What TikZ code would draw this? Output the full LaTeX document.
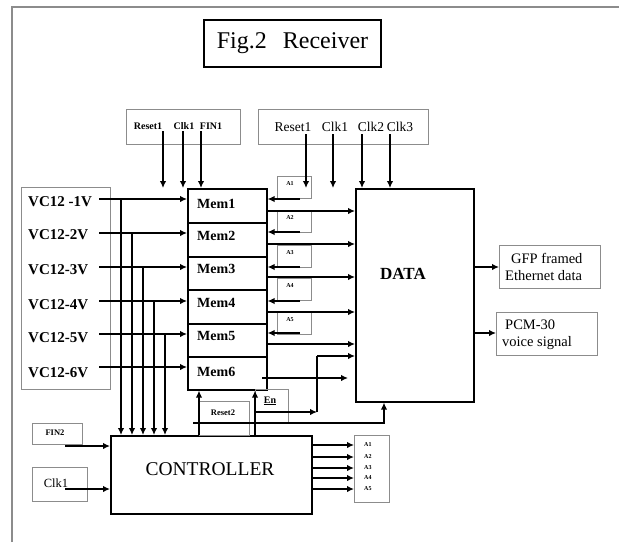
\documentclass[tikz,border=0pt]{standalone}
\usepackage{fontspec}
\setmainfont{Liberation Serif}
\usetikzlibrary{arrows.meta}
\definecolor{frm}{gray}{0.55}
\begin{document}
\begin{tikzpicture}[x=1pt,y=-1pt,
  blk/.style={draw=black, line width=1.6pt, inner sep=0pt, anchor=north west},
  gbox/.style={draw=frm, line width=1.4pt, inner sep=0pt, anchor=north west},
  arr/.style={line width=2pt, -{Latex[length=7pt,width=6.5pt]}},
  ln/.style={line width=2pt},
  lbl/.style={inner sep=0pt},
  vcf/.style={lbl, anchor=west, font=\fontsize{15}{17}\selectfont\bfseries},
  memf/.style={lbl, anchor=west, font=\fontsize{14}{16}\selectfont\bfseries},
  af/.style={lbl, font=\fontsize{6}{7}\selectfont\bfseries},
  tinyf/.style={lbl, font=\fontsize{10}{11}\selectfont\bfseries},
  midf/.style={lbl, font=\fontsize{13.5}{15}\selectfont},
  outf/.style={lbl, anchor=west, font=\fontsize{14.5}{17}\selectfont}
]
\useasboundingbox (0,0) rectangle (619,542);
% outer frame
\draw[frm, line width=1.4pt] (12,542) -- (12,7) -- (619,7);

% title
\node[draw=black, line width=1.8pt, minimum width=177pt, minimum height=47pt, inner sep=0pt,
      font=\fontsize{24}{28}\selectfont] (title) at (292.5,43.5) {Fig.2\hspace{16pt}Receiver};

% top boxes
\node[gbox, minimum width=114pt, minimum height=35pt] (tl) at (126,109) {};
\node[tinyf] (tlr) at (148,126) {Reset1};
\node[tinyf] (tlc) at (184,126) {Clk1};
\node[tinyf] (tlf) at (211,126) {FIN1};
\node[gbox, minimum width=170pt, minimum height=35pt] (tr) at (258,109) {};
\node[midf] (trr) at (293,127) {Reset1};
\node[midf] (trc1) at (335,127) {Clk1};
\node[midf] (trc2) at (371,127) {Clk2};
\node[midf] (trc3) at (400,127) {Clk3};

% mem boxes
\node[blk, minimum width=79pt, minimum height=34pt] (mem1) at (187,188) {};
\node[blk, minimum width=79pt, minimum height=34pt] (mem2) at (187,222) {};
\node[blk, minimum width=79pt, minimum height=33pt] (mem3) at (187,256) {};
\node[blk, minimum width=79pt, minimum height=34pt] (mem4) at (187,289) {};
\node[blk, minimum width=79pt, minimum height=33pt] (mem5) at (187,323) {};
\node[blk, minimum width=79pt, minimum height=33pt] (mem6) at (187,356) {};
\node[memf] (mt1) at (197,204) {Mem1};
\node[memf] (mt2) at (197,236) {Mem2};
\node[memf] (mt3) at (197,269) {Mem3};
\node[memf] (mt4) at (197,303) {Mem4};
\node[memf] (mt5) at (197,336) {Mem5};
\node[memf] (mt6) at (197,372) {Mem6};

% DATA
\node[blk, minimum width=118pt, minimum height=213pt] (data) at (355,188) {};
\node[lbl, font=\fontsize{17}{19}\selectfont\bfseries] (datat) at (403,274) {DATA};

% outputs
\node[gbox, minimum width=101pt, minimum height=43pt] (gfp) at (499,245) {};
\node[outf] (gfpt1) at (511,258) {GFP framed};
\node[outf] (gfpt2) at (505,276) {Ethernet data};
\node[gbox, minimum width=101pt, minimum height=43pt] (pcm) at (496,312) {};
\node[outf] (pcmt1) at (505,325) {PCM-30};
\node[outf] (pcmt2) at (502,343) {voice signal};

% VC box
\node[gbox, minimum width=89pt, minimum height=202pt] (vc) at (21,187) {};
\node[vcf] (vc1) at (28,202) {VC12 -1V};
\node[vcf] (vc2) at (28,235) {VC12-2V};
\node[vcf] (vc3) at (28,270) {VC12-3V};
\node[vcf] (vc4) at (28,305) {VC12-4V};
\node[vcf] (vc5) at (28,338) {VC12-5V};
\node[vcf] (vc6) at (28,373) {VC12-6V};

% controller
\node[blk, minimum width=201pt, minimum height=78pt] (ctl) at (110,435) {};
\node[lbl, font=\fontsize{19.5}{22}\selectfont] (ctlt) at (210,469) {CONTROLLER};

% FIN2, Clk1 boxes
\node[gbox, minimum width=50pt, minimum height=21pt] (fin2) at (32,423) {};
\node[lbl, font=\fontsize{8.5}{10}\selectfont\bfseries] (fin2t) at (55,433) {FIN2};
\node[gbox, minimum width=55pt, minimum height=34pt] (clkb) at (32,467) {};
\node[lbl, font=\fontsize{12.5}{14}\selectfont] (clkt) at (56,483) {Clk1};

% A output box
\node[gbox, minimum width=35pt, minimum height=67pt] (aout) at (354,435) {};
\node[af, anchor=west] (ao1) at (364,445) {A1};
\node[af, anchor=west] (ao2) at (364,457) {A2};
\node[af, anchor=west] (ao3) at (364,468) {A3};
\node[af, anchor=west] (ao4) at (364,478) {A4};
\node[af, anchor=west] (ao5) at (364,489) {A5};

% small A boxes beside mem
\node[gbox, minimum width=34pt, minimum height=22pt] (a1) at (277,176) {};
\node[gbox, minimum width=34pt, minimum height=22pt] (a2) at (277,210) {};
\node[gbox, minimum width=34pt, minimum height=22pt] (a3) at (277,245) {};
\node[gbox, minimum width=34pt, minimum height=22pt] (a4) at (277,278) {};
\node[gbox, minimum width=34pt, minimum height=22pt] (a5) at (277,312) {};
\node[af] (a1t) at (290,184) {A1};
\node[af] (a2t) at (290,218) {A2};
\node[af] (a3t) at (290,253) {A3};
\node[af] (a4t) at (290,286) {A4};
\node[af] (a5t) at (290,320) {A5};

% Reset2 and En boxes
\node[gbox, minimum width=50pt, minimum height=34pt] (rst2) at (199,401) {};
\node[lbl, font=\fontsize{8.5}{10}\selectfont\bfseries] (rst2t) at (223,413) {Reset2};
\node[gbox, minimum width=33pt, minimum height=34pt] (en) at (255,389) {};
\node[lbl, font=\fontsize{10}{11}\selectfont\bfseries] (ent) at (270,401) {\underline{En}};

% coordinates
\coordinate (s1) at (163,131); \coordinate (s2) at (183,131); \coordinate (s3) at (201,131);
\coordinate (d1) at (306,134); \coordinate (d2) at (333,134); \coordinate (d3) at (362,134); \coordinate (d4) at (390,134);
\coordinate (v1) at (99,199); \coordinate (v2) at (99,233); \coordinate (v3) at (99,267);
\coordinate (v4) at (99,301); \coordinate (v5) at (99,334); \coordinate (v6) at (99,367);
\coordinate (b1) at (121,199); \coordinate (b2) at (132,233); \coordinate (b3) at (143,267);
\coordinate (b4) at (154,301); \coordinate (b5) at (165,334);
\coordinate (r1) at (300,199); \coordinate (r2) at (300,232); \coordinate (r3) at (300,267);
\coordinate (r4) at (300,301); \coordinate (r5) at (300,333);
\coordinate (o1) at (266,211); \coordinate (o2) at (266,244); \coordinate (o3) at (266,277);
\coordinate (o4) at (266,312); \coordinate (o5) at (266,344);
\coordinate (o6) at (262,378); \coordinate (o6e) at (348,378);
\coordinate (fs) at (65,446); \coordinate (cs) at (65,489);
\coordinate (c1) at (311,445); \coordinate (c2) at (311,457); \coordinate (c3) at (311,468);
\coordinate (c4) at (311,478); \coordinate (c5) at (311,489);
\coordinate (u1) at (199,435); \coordinate (u2) at (255,435);
\coordinate (es) at (255,412); \coordinate (ej) at (317,412); \coordinate (ed) at (317,356);
\coordinate (ls) at (193,423); \coordinate (lc) at (384,423);
\coordinate (g1) at (473,267); \coordinate (g2) at (473,333);

% top arrows
\foreach \p in {s1,s2,s3} \draw[arr] (\p) -- (\p |- mem1.north);
\foreach \p in {d1,d2,d3,d4} \draw[arr] (\p) -- (\p |- data.north);
% VC arrows
\foreach \p in {v1,v2,v3,v4,v5,v6} \draw[arr] (\p) -- (\p -| mem1.west);
\foreach \p in {b1,b2,b3,b4,b5} \draw[arr] (\p) -- (\p |- ctl.north);
% A feedback arrows
\foreach \p in {r1,r2,r3,r4,r5} \draw[arr] (\p) -- (\p -| mem1.east);
% mem to data
\foreach \p in {o1,o2,o3,o4,o5} \draw[arr] (\p) -- (\p -| data.west);
\draw[arr] (o6) -- (o6e);
% en path
\draw[arr] (es) -- (ej);
\draw[ln] (ej) -- (ed);
\draw[arr] (ed) -- (ed -| data.west);
% long line to data bottom
\draw[arr] (ls) -- (lc) -- (lc |- data.south);
% controller up to mem6
\draw[arr] (u1) -- (u1 |- mem6.south);
\draw[arr] (u2) -- (u2 |- mem6.south);
% FIN2, Clk1
\draw[arr] (fs) -- (fs -| ctl.west);
\draw[arr] (cs) -- (cs -| ctl.west);
% controller outputs
\foreach \p in {c1,c2,c3,c4,c5} \draw[arr] (\p) -- (\p -| aout.west);
% data outputs
\draw[arr] (g1) -- (g1 -| gfp.west);
\draw[arr] (g2) -- (g2 -| pcm.west);
\end{tikzpicture}
\end{document}
